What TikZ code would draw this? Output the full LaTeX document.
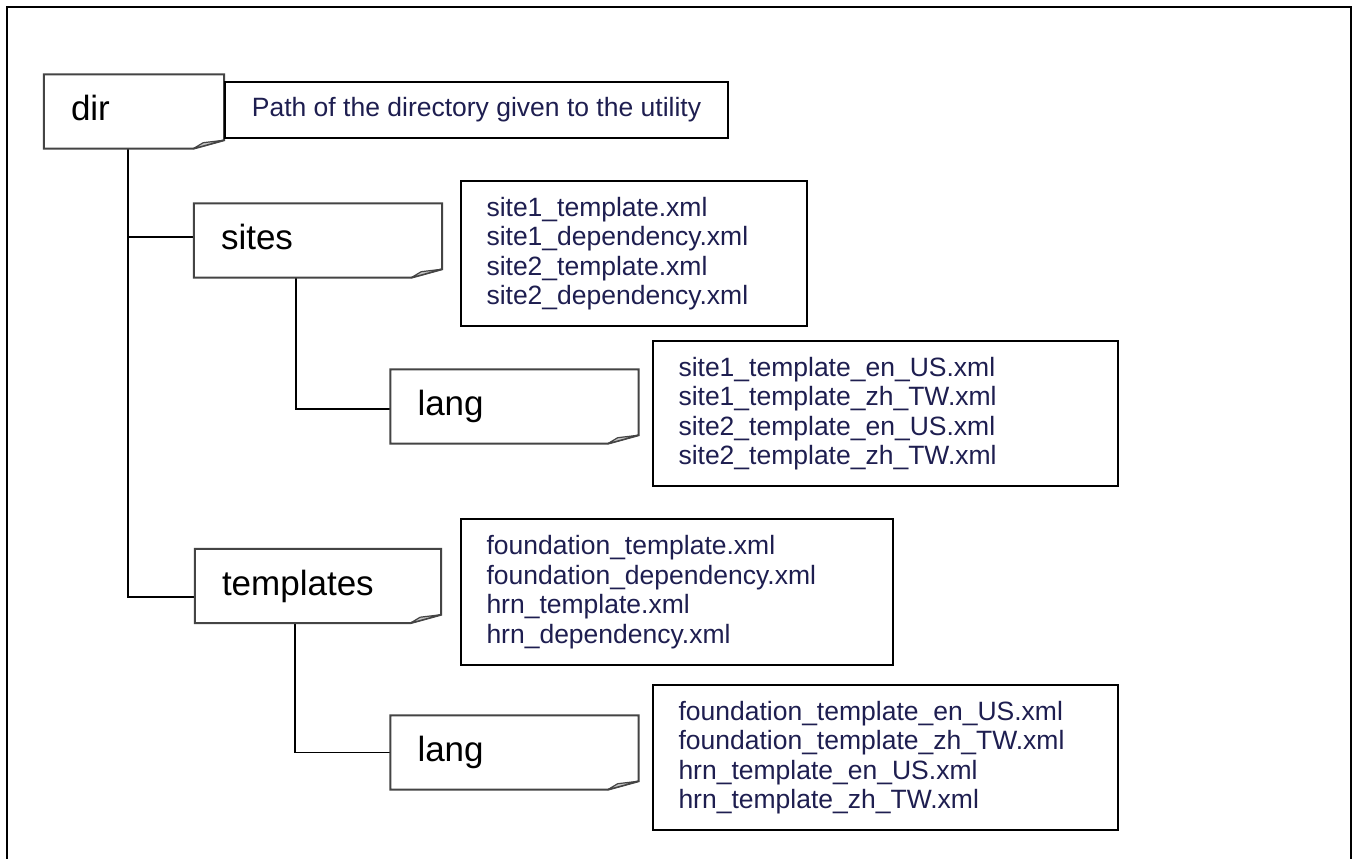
\documentclass[tikz,border=0pt]{standalone}
\usepackage{fontspec}
\setmainfont{Liberation Sans}
\definecolor{filetext}{HTML}{1E1E50}
\definecolor{folderedge}{HTML}{444444}
\definecolor{flapgray}{HTML}{C4C4C4}

\tikzset{
  folder/.style={rectangle, draw=none, fill=white, inner xsep=27pt, inner ysep=0pt,
    align=left, font=\fontsize{35}{40}\selectfont, text height=25pt, text depth=7pt,
    minimum height=74pt},
  folderoutline/.style={draw=folderedge, line width=2pt, line join=miter},
  folderflap/.style={draw=folderedge, fill=flapgray, line width=1.2pt, line join=round},
  filebox/.style={rectangle, draw=black, line width=1.8pt, fill=white, inner xsep=25.5pt,
    inner ysep=0pt, align=left, font=\fontsize{26.5}{29.5}\selectfont, text=filetext,
    minimum height=145pt},
  link/.style={line width=1.6pt, draw=black},
  frame/.style={line width=2pt, draw=black}
}

% outline of a folder card with its folded lower right corner
\newcommand\foldcard[1]{%
  \draw[folderoutline] (#1.north west) -- (#1.north east)
    -- ([yshift=8.5pt]#1.south east) -- ([xshift=-31pt]#1.south east)
    -- (#1.south west) -- cycle;
  \draw[folderflap] ([xshift=-31pt]#1.south east)
    -- ([xshift=-21pt,yshift=6pt]#1.south east)
    -- ([yshift=8.5pt]#1.south east) -- cycle;
}

\begin{document}
\begin{tikzpicture}[x=1pt,y=-1pt]
\useasboundingbox (0,0) rectangle (1353,859);
\fill[white] (0,0) rectangle (1353,859);

% page frame, open at the bottom
\draw[frame] (7,859) -- (7,7) -- (1351,7) -- (1351,859);

% folders
\node[folder, text width=126pt] (dir) at (134,111.5) {dir};
\node[folder, text width=194pt] (sites) at (318,240.5) {sites};
\node[folder, text width=194pt] (sitelang) at (514.5,406.5) {lang};
\node[folder, text width=192pt] (templates) at (318,586) {templates};
\node[folder, text width=194pt] (tpllang) at (514.5,752.5) {lang};

% connectors of the tree
\coordinate (trunk) at ([xshift=84pt]dir.south west);
\coordinate (sitesjoin) at ([yshift=3.5pt]sites.west);
\coordinate (tpljoin) at ([yshift=-11pt]templates.west);
\draw[link] (trunk) -- (trunk |- tpljoin) -- (tpljoin);
\draw[link] (trunk |- sitesjoin) -- (sitesjoin);

\coordinate (sitesstem) at ([xshift=102pt]sites.south west);
\coordinate (sitelangjoin) at ([yshift=-2.5pt]sitelang.west);
\draw[link] (sitesstem) |- (sitelangjoin);

\coordinate (tplstem) at ([xshift=100pt]templates.south west);
\draw[link] (tplstem) |- (tpllang.west);

\foldcard{dir}
\foldcard{sites}
\foldcard{sitelang}
\foldcard{templates}
\foldcard{tpllang}

% descriptions and file lists
\node[filebox, minimum width=503pt, minimum height=56pt, inner xsep=0pt, align=center]
  (pathnote) at (476.5,110) {Path of the directory given to the utility};

\node[filebox, text width=295pt] (sitefiles) at (634,253.5)
  {site1\_template.xml\\site1\_dependency.xml\\site2\_template.xml\\site2\_dependency.xml};

\node[filebox, text width=414pt] (sitelangfiles) at (885.5,413.5)
  {site1\_template\_en\_US.xml\\site1\_template\_zh\_TW.xml\\site2\_template\_en\_US.xml\\site2\_template\_zh\_TW.xml};

\node[filebox, text width=381pt, minimum height=146pt] (tplfiles) at (677,592)
  {foundation\_template.xml\\foundation\_dependency.xml\\hrn\_template.xml\\hrn\_dependency.xml};

\node[filebox, text width=414pt] (tpllangfiles) at (885.5,757.5)
  {foundation\_template\_en\_US.xml\\foundation\_template\_zh\_TW.xml\\hrn\_template\_en\_US.xml\\hrn\_template\_zh\_TW.xml};
\end{tikzpicture}
\end{document}
